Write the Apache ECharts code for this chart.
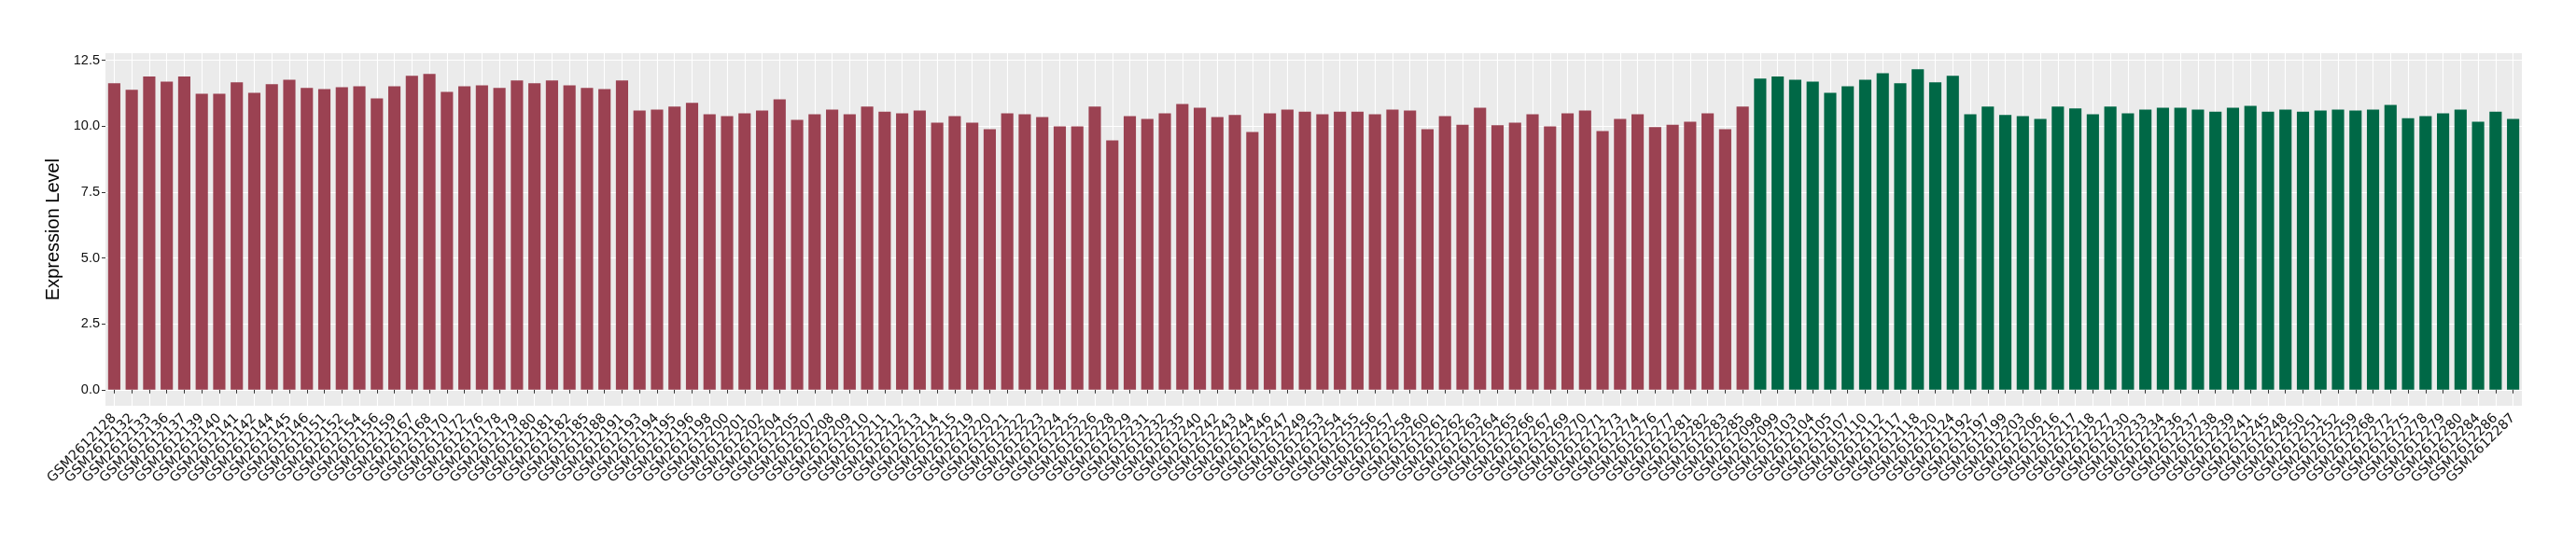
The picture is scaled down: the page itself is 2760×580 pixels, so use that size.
<!DOCTYPE html>
<html>
<head>
<meta charset="utf-8">
<title>Expression Level</title>
<script src="https://cdn.jsdelivr.net/npm/echarts@6/dist/echarts.min.js"></script>
<style>
  html, body { margin: 0; padding: 0; background: #fff; }
  #chart { width: 2760px; height: 580px; }
</style>
</head>
<body>
<div id="chart"></div>
<script>
// first group (red) sample ids and values
const redSamples = ['GSM2612128', 'GSM2612132', 'GSM2612133', 'GSM2612136', 'GSM2612137', 'GSM2612139', 'GSM2612140', 'GSM2612141', 'GSM2612142', 'GSM2612144',
  'GSM2612145', 'GSM2612146', 'GSM2612151', 'GSM2612152', 'GSM2612154', 'GSM2612156', 'GSM2612159', 'GSM2612167', 'GSM2612168', 'GSM2612170',
  'GSM2612172', 'GSM2612176', 'GSM2612178', 'GSM2612179', 'GSM2612180', 'GSM2612181', 'GSM2612182', 'GSM2612185', 'GSM2612188', 'GSM2612191',
  'GSM2612193', 'GSM2612194', 'GSM2612195', 'GSM2612196', 'GSM2612198', 'GSM2612200', 'GSM2612201', 'GSM2612202', 'GSM2612204', 'GSM2612205',
  'GSM2612207', 'GSM2612208', 'GSM2612209', 'GSM2612210', 'GSM2612211', 'GSM2612212', 'GSM2612213', 'GSM2612214', 'GSM2612215', 'GSM2612219',
  'GSM2612220', 'GSM2612221', 'GSM2612222', 'GSM2612223', 'GSM2612224', 'GSM2612225', 'GSM2612226', 'GSM2612228', 'GSM2612229', 'GSM2612231',
  'GSM2612232', 'GSM2612235', 'GSM2612240', 'GSM2612242', 'GSM2612243', 'GSM2612244', 'GSM2612246', 'GSM2612247', 'GSM2612249', 'GSM2612253',
  'GSM2612254', 'GSM2612255', 'GSM2612256', 'GSM2612257', 'GSM2612258', 'GSM2612260', 'GSM2612261', 'GSM2612262', 'GSM2612263', 'GSM2612264',
  'GSM2612265', 'GSM2612266', 'GSM2612267', 'GSM2612269', 'GSM2612270', 'GSM2612271', 'GSM2612273', 'GSM2612274', 'GSM2612276', 'GSM2612277',
  'GSM2612281', 'GSM2612282', 'GSM2612283', 'GSM2612285']
const redValues = [11.63, 11.38, 11.88, 11.69, 11.88, 11.23, 11.23, 11.66, 11.26, 11.59,
  11.76, 11.45, 11.41, 11.48, 11.51, 11.05, 11.51, 11.91, 11.98, 11.30,
  11.51, 11.55, 11.45, 11.73, 11.63, 11.73, 11.55, 11.45, 11.41, 11.73,
  10.59, 10.63, 10.74, 10.88, 10.45, 10.38, 10.49, 10.59, 11.02, 10.24,
  10.45, 10.63, 10.45, 10.74, 10.55, 10.49, 10.59, 10.13, 10.38, 10.13,
  9.88, 10.49, 10.45, 10.34, 9.99, 9.99, 10.74, 9.46, 10.38, 10.27,
  10.49, 10.84, 10.70, 10.34, 10.42, 9.78, 10.49, 10.63, 10.55, 10.45,
  10.55, 10.55, 10.45, 10.63, 10.59, 9.88, 10.38, 10.05, 10.70, 10.03,
  10.13, 10.45, 9.99, 10.49, 10.59, 9.81, 10.27, 10.45, 9.96, 10.05,
  10.17, 10.49, 9.88, 10.74]

// second group (green)
const greenSamples = ['GSM2612098', 'GSM2612099', 'GSM2612103', 'GSM2612104', 'GSM2612105', 'GSM2612107', 'GSM2612110', 'GSM2612112', 'GSM2612117', 'GSM2612118',
  'GSM2612120', 'GSM2612124', 'GSM2612192', 'GSM2612197', 'GSM2612199', 'GSM2612203', 'GSM2612206', 'GSM2612216', 'GSM2612217', 'GSM2612218',
  'GSM2612227', 'GSM2612230', 'GSM2612233', 'GSM2612234', 'GSM2612236', 'GSM2612237', 'GSM2612238', 'GSM2612239', 'GSM2612241', 'GSM2612245',
  'GSM2612248', 'GSM2612250', 'GSM2612251', 'GSM2612252', 'GSM2612259', 'GSM2612268', 'GSM2612272', 'GSM2612275', 'GSM2612278', 'GSM2612279',
  'GSM2612280', 'GSM2612284', 'GSM2612286', 'GSM2612287']
const greenValues = [11.80, 11.88, 11.76, 11.69, 11.26, 11.51, 11.76, 12.01, 11.63, 12.16,
  11.66, 11.91, 10.45, 10.74, 10.42, 10.38, 10.27, 10.74, 10.67, 10.45,
  10.74, 10.49, 10.63, 10.70, 10.70, 10.63, 10.55, 10.70, 10.77, 10.55,
  10.63, 10.55, 10.59, 10.63, 10.59, 10.63, 10.80, 10.30, 10.38, 10.49,
  10.63, 10.17, 10.55, 10.27]

const yTicks = [0, 2.5, 5, 7.5, 10, 12.5]
const yMinorTicks = [1.25, 3.75, 6.25, 8.75, 11.25]

const categories = redSamples.concat(greenSamples)
// pad with null so both groups share one slot per category
const redData = redValues.concat(greenSamples.map(() => null))
const greenData = redSamples.map(() => null).concat(greenValues)

const chartInstance = echarts.init(document.getElementById('chart'), null, { renderer: 'canvas' })

// ggplot style: 5% padding over the data range
const yMin = v => -v.max * 0.05
const yMax = v => v.max * 1.05

const option = {
  animation: false,
  grid: {
    left: 113,
    right: 58,
    top: 57,
    bottom: 145,
    show: true,
    backgroundColor: '#EBEBEB',
    borderWidth: 0
  },
  xAxis: {
    type: 'category',
    data: categories,
    axisLine: { show: false },
    axisTick: {
      show: true,
      interval: 0,
      alignWithLabel: true,
      length: 4,
      lineStyle: { color: '#333333', width: 1 }
    },
    axisLabel: {
      interval: 0,
      rotate: 45,
      margin: 11,
      fontFamily: 'DejaVu Sans',
      fontSize: 14.5,
      color: '#111111'
    },
    splitLine: {
      // vertical grid lines through the bar centres
      show: true,
      interval: 0,
      alignWithLabel: true,
      lineStyle: { color: '#FFFFFF', width: 1.1 }
    }
  },
  yAxis: [
    {
      type: 'value',
      min: yMin,
      max: yMax,
      name: 'Expression Level',
      nameLocation: 'middle',
      nameRotate: 90,
      nameGap: 38,
      nameTextStyle: {
        fontFamily: 'Liberation Sans',
        fontSize: 20,
        color: '#000000'
      },
      axisLine: { show: false },
      axisTick: {
        show: true,
        length: 4,
        customValues: yTicks,
        lineStyle: { color: '#333333', width: 1 }
      },
      axisLabel: {
        customValues: yTicks,
        margin: 6,
        fontFamily: 'Liberation Sans',
        fontSize: 14.5,
        color: '#111111',
        formatter: v => v.toFixed(1)
      },
      splitLine: {
        show: true,
        lineStyle: { color: '#FFFFFF', width: 1.2 }
      }
    },
    {
      // only carries the minor grid lines
      type: 'value',
      position: 'left',
      min: yMin,
      max: yMax,
      axisLine: { show: false },
      axisTick: { show: false, customValues: yMinorTicks },
      axisLabel: { show: false, customValues: yMinorTicks },
      splitLine: {
        show: true,
        lineStyle: { color: '#FFFFFF', width: 0.6 }
      }
    }
  ],
  series: [
    {
      type: 'bar',
      name: 'group1',
      stack: 'all',
      data: redData,
      barWidth: '70%',
      itemStyle: { color: '#9B4252' }
    },
    {
      type: 'bar',
      name: 'group2',
      stack: 'all',
      data: greenData,
      barWidth: '70%',
      itemStyle: { color: '#006846' }
    }
  ]
}
chartInstance.setOption(option)
</script>
</body>
</html>
